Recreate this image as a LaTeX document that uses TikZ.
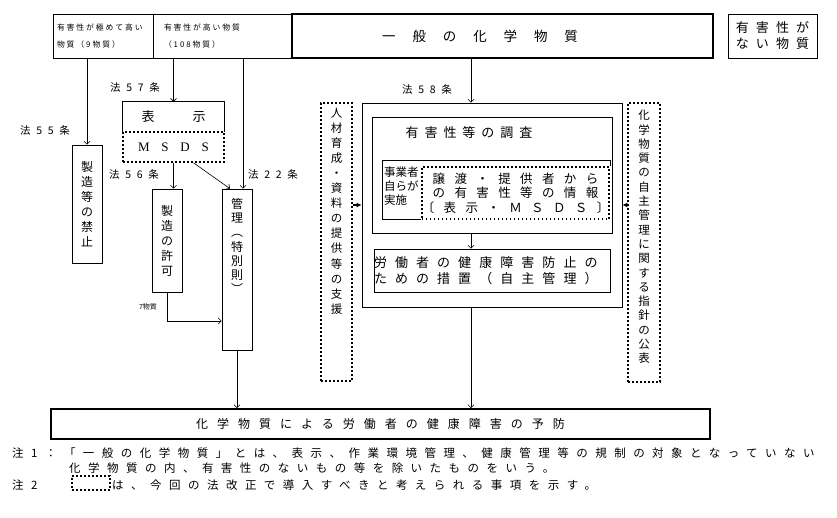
\documentclass[tikz,border=0pt]{standalone}
\usepackage{fontspec}
\setmainfont{Noto Sans CJK JP}
\newfontfamily\latinserif{Liberation Serif}
\usetikzlibrary{arrows.meta}
\newcommand{\sized}[2]{\fontsize{#1}{#2}\selectfont}
\newcommand{\tracked}[1]{\addfontfeatures{LetterSpace=#1}}

\begin{document}
\begin{tikzpicture}[
    x=1pt, y=-1pt,
    >={Straight Barb[length=3pt,width=6pt]},
    box/.style={draw, line width=0.7pt, inner sep=0pt, align=center},
    heavy/.style={box, line width=1.8pt},
    dotbox/.style={draw, line width=1.6pt, dash pattern=on 1.6pt off 2.4pt, inner sep=0pt, align=center},
    vtext/.style={font=\sized{12}{15}, align=center, inner sep=0pt},
    law/.style={font=\sized{10.5}{12}\tracked{55}, inner sep=0pt},
    small/.style={font=\sized{7.8}{17}\tracked{25}, align=left},
    body/.style={font=\sized{13}{16}\tracked{62}, inner sep=0pt},
    note/.style={font=\sized{11.5}{12}\tracked{65}, inner sep=0pt, anchor=west},
    flow/.style={->, line width=0.6pt},
    push/.style={-{Latex[length=5pt,width=5pt]}, line width=1.4pt}
  ]
    \useasboundingbox (0,0) rectangle (837,517);

    \node[box, small, minimum width=100pt, minimum height=44pt, text width=92pt] (vhigh) at (103,36) {有害性が極めて高い\\物質（9物質）};
    \node[box, small, minimum width=139pt, minimum height=44pt, text width=117pt] (high) at (222.5,36) {有害性が高い物質\\（108物質）};
    \node[heavy, minimum width=421pt, minimum height=44pt] (general) at (502.5,36) {};
    \node[font=\sized{13.5}{14}\tracked{125}, inner sep=0pt] (generaltext) at (480,36) {一般の化学物質};
    \node[box, font=\sized{13}{16}\tracked{55}, minimum width=89pt, minimum height=44pt] (nonhaz) at (772.5,36) {有害性が\\ない物質};

    \node[law] (art57) at (135,88) {法57条};
    \node[law] (art55) at (45,131) {法55条};
    \node[law] (art56) at (134,175) {法56条};
    \node[law] (art22) at (273,175) {法22条};
    \node[law] (art58) at (427,90) {法58条};

    \node[inner sep=0pt, minimum width=101pt, minimum height=30pt, font=\sized{13}{14}] (disp) at (173.5,117) {表\hspace{38pt}示};
    \draw[line width=0.7pt] (disp.south west) |- (disp.north east) -- (disp.south east);
    \node[dotbox, minimum width=101pt, minimum height=30pt, font=\latinserif\sized{13}{15}\tracked{90}] (msds) at (173.5,147) {MSDS};

    \node[box, vtext, minimum width=30pt, minimum height=118pt] (ban) at (87,204) {製\\造\\等\\の\\禁\\止};
    \node[box, vtext, minimum width=30pt, minimum height=103pt] (permit) at (167,240.5) {製\\造\\の\\許\\可};
    \node[box, minimum width=30pt, minimum height=161pt] (mgmt) at (237,269.5) {};
    \node[vtext, font=\sized{12}{14.2}] (mgmttext) at (237,246) {管\\理\\︵\\特\\別\\則\\︶};
    \node[font=\sized{7}{8}, inner sep=0pt] (seven) at (148,307) {7物質};

    \node[dotbox, minimum width=31pt, minimum height=278pt] (hrd) at (336.5,242) {};
    \node[vtext, font=\sized{11.5}{15.1}] (hrdtext) at (336.5,211) {人\\材\\育\\成\\・\\資\\料\\の\\提\\供\\等\\の\\支\\援};
    \node[dotbox, minimum width=32pt, minimum height=279pt] (guide) at (644,242.5) {};
    \node[vtext, font=\sized{11.5}{14.3}] (guidetext) at (644,237) {化\\学\\物\\質\\の\\自\\主\\管\\理\\に\\関\\す\\る\\指\\針\\の\\公\\表};

    \node[box, minimum width=260pt, minimum height=204pt] (outer) at (492,205) {};
    \node[box, minimum width=240pt, minimum height=116pt] (survey) at (492,175) {};
    \node[body, font=\sized{13}{14}\tracked{46}] (surveytext) at (469,133) {有害性等の調査};
    \node[font=\sized{11.5}{14}, align=left, inner sep=0pt, anchor=west] (jigyo) at (384,186) {事業者\\自らが\\実施};
    \node[dotbox, minimum width=173pt, minimum height=52pt, font=\sized{12.5}{14.5}\tracked{75}] (joho) at (515.5,193) {譲渡・提供者から\\の有害性等の情報\\〔表示・ＭＳＤＳ〕};
    \coordinate (subnw) at (382,160);
    \draw[line width=0.7pt] (joho.south west) -| (subnw) -- (subnw -| joho.east) -- (joho.north east);
    \node[box, body, align=left, text width=236pt, minimum height=43pt] (rodo) at (492,270.5) {労働者の健康障害防止の\\ための措置（自主管理）};

    \node[heavy, minimum width=659pt, minimum height=30pt, font=\sized{12}{13}\tracked{75}] (bottom) at (380.5,424) {化学物質による労働者の健康障害の予防};

    \node[note] (note1) at (12,453) {注1：「一般の化学物質」とは、表示、作業環境管理、健康管理等の規制の対象となっていない};
    \node[note] (note1b) at (69,468) {化学物質の内、有害性のないもの等を除いたものをいう。};
    \node[note] (note2) at (12,485) {注2};
    \node[dotbox, minimum width=38pt, minimum height=14pt] (legend) at (91,483) {};
    \node[note] (note2b) at (112,485) {は、今回の法改正で導入すべきと考えられる事項を示す。};

    \draw[flow] (vhigh.south -| ban.north) -- (ban.north);
    \draw[flow] (high.south -| disp.north) -- (disp.north);
    \coordinate (mgmtin) at ([xshift=6pt]mgmt.north);
    \draw[flow] (high.south -| mgmtin) -- (mgmtin);
    \draw[flow] (msds.south) -- (msds.south |- permit.north);
    \draw[flow] ([xshift=20pt]msds.south) -- ([xshift=-7pt]mgmt.north);
    \draw[flow] (permit.south) |- ([yshift=-51.5pt]mgmt.west);
    \draw[flow] (mgmt.south) -- (mgmt.south |- bottom.north);
    \coordinate (spine) at ([xshift=-21pt]outer.north);
    \draw[flow] (general.south -| spine) -- (spine);
    \draw[flow] (survey.south -| spine) -- (rodo.north -| spine);
    \draw[flow] (outer.south -| spine) -- (bottom.north -| spine);
    \draw[push] (outer.west -| hrd.east) -- (outer.west);
    \draw[push] (outer.east -| guide.west) -- (outer.east);
  \end{tikzpicture}
\end{document}
